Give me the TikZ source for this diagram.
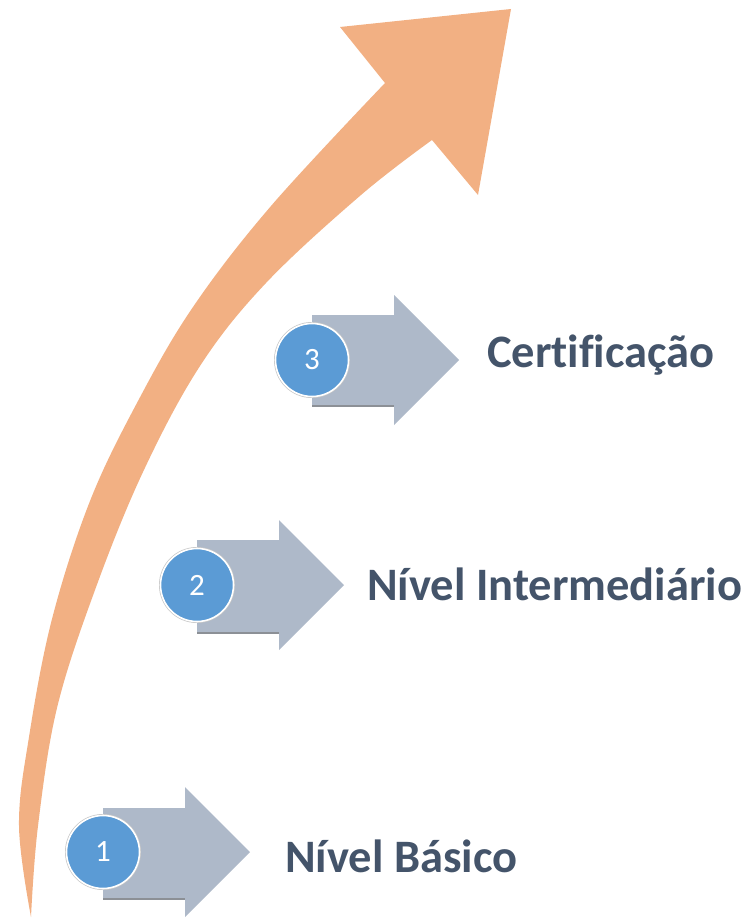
\documentclass[tikz,border=0pt]{standalone}
\usepackage{fontspec}
\setmainfont{Carlito}[Ligatures=NoCommon]
\usetikzlibrary{positioning}

\definecolor{riseorange}{RGB}{242,176,131}
\definecolor{stepgrey}{RGB}{174,185,201}
\definecolor{stepshadow}{RGB}{140,144,150}
\definecolor{stepblue}{RGB}{91,155,213}
\definecolor{labelslate}{RGB}{68,84,106}

\tikzset{
  rise/.style={fill=riseorange},
  stepbody/.style={fill=stepgrey},
  stepedge/.style={draw=stepshadow, line width=1.6pt},
  badge/.style={circle, fill=stepblue, draw=white, line width=1.6pt,
    preaction={draw=gray!45, line width=3pt},
    minimum size=73pt, inner sep=0pt, text=white,
    font=\fontsize{31}{31}\selectfont},
  steplabel/.style={anchor=base west, text=labelslate, inner sep=0pt,
    font=\fontsize{46.5}{50}\selectfont\bfseries}
}

\begin{document}
\begin{tikzpicture}[x=1pt,y=-1pt]

\useasboundingbox (0,0) rectangle (742,920);

% rising arrow
\fill[rise] plot[smooth, tension=0.6] coordinates {(31,917) (19,826) (29,737) (52,619) (90,501) (138,401) (193,307) (271,206) (385,83)}
  -- (340,27) -- (511,9) -- (478,195)
  -- plot[smooth, tension=0.6] coordinates {(432,140) (361,195) (266,283) (200,366) (143,472) (95,590) (57,708) (38,826) (31,917)}
  -- cycle;

% step 1
\fill[stepbody] (103,808) -- (185,808) -- (185,787) -- (250,852) -- (185,917) -- (185,898) -- (103,898) -- cycle;
\draw[stepedge] (103,898.8) -- (185,898.8);
\coordinate (tip1) at (250,852);
\node[badge] (c1) at (103,852) {1};
\node[steplabel] (t1) at (285,872) {Nível Básico};

% step 2
\fill[stepbody] (197,540) -- (279,540) -- (279,520) -- (344,585) -- (279,650) -- (279,632) -- (197,632) -- cycle;
\draw[stepedge] (197,632.8) -- (279,632.8);
\coordinate (tip2) at (344,585);
\node[badge] (c2) at (197,585) {2};
\node[steplabel] (t2) at (367,600) {Nível Intermediário};

% step 3
\fill[stepbody] (312,315) -- (394,315) -- (394,295) -- (459,360) -- (394,425) -- (394,405) -- (312,405) -- cycle;
\draw[stepedge] (312,405.8) -- (394,405.8);
\coordinate (tip3) at (459,360);
\node[badge] (c3) at (312,360) {3};
\node[steplabel] (t3) at (487,367) {Certificação};

\end{tikzpicture}
\end{document}
